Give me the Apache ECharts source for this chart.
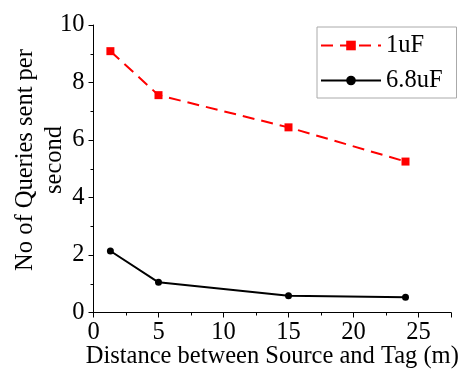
<!DOCTYPE html>
<html><head><meta charset="utf-8">
<script src="https://cdn.jsdelivr.net/npm/echarts@6/dist/echarts.min.js"></script>
<style>html,body{margin:0;padding:0;background:#fff}#c{width:464px;height:371px}</style>
</head><body><div id="c"></div>
<script>
const distances = [1.3, 5, 15, 24];
const series1uF = [9.09, 7.56, 6.44, 5.25];
const series68uF = [2.14, 1.05, 0.58, 0.53];
const xTicks = [0, 5, 10, 15, 20, 25];
const yTicks = [0, 2, 4, 6, 8, 10];
const yTitle = 'No of Queries sent per\nsecond';
const xTitle = 'Distance between Source and Tag (m)';
const font = 'Liberation Serif, Times New Roman, serif';
const chart = echarts.init(document.getElementById('c'));
chart.setOption({
  animation: false,
  backgroundColor: '#fff',
  grid: {left: 93.5, right: 13, top: 25, bottom: 58.5, outerBoundsMode: 'none', containLabel: false},
  graphic: [{
    type: 'text', x: 40, y: 160, rotation: Math.PI / 2,
    style: {text: yTitle, font: '24.5px ' + font, fill: '#000', lineHeight: 29,
      align: 'center', verticalAlign: 'middle'}
  }],
  legend: {
    orient: 'vertical', left: 317, top: 27,
    padding: [6, 14, 5, 3], itemGap: 10,
    borderColor: '#aaa', borderWidth: 1,
    itemWidth: 60, itemHeight: 12,
    textStyle: {fontFamily: font, fontSize: 24.5, color: '#000'},
    data: ['1uF', '6.8uF']
  },
  xAxis: {
    type: 'value', min: 0, max: 27.5, interval: 5,
    name: xTitle, nameLocation: 'middle', nameGap: 32,
    nameMoveOverlap: false,
    nameTextStyle: {fontFamily: font, fontSize: 24.5, color: '#000'},
    axisLine: {lineStyle: {color: '#000', width: 1}},
    axisTick: {show: true, inside: false, length: 5, lineStyle: {color: '#000'}},
    minorTick: {show: true, splitNumber: 2, length: 3, lineStyle: {color: '#000'}},
    splitLine: {show: false},
    axisLabel: {fontFamily: font, fontSize: 24.5, color: '#000', margin: 8,
      formatter: v => xTicks.includes(v) ? String(v) : ''}
  },
  yAxis: {
    type: 'value', min: 0, max: 10, interval: 2,
    axisLine: {show: true, lineStyle: {color: '#000', width: 1}},
    axisTick: {show: true, inside: false, length: 5, lineStyle: {color: '#000'}},
    minorTick: {show: true, splitNumber: 2, length: 3, lineStyle: {color: '#000'}},
    splitLine: {show: false},
    axisLabel: {fontFamily: font, fontSize: 24.5, color: '#000', margin: 9,
      formatter: v => yTicks.includes(v) ? String(v) : ''}
  },
  series: [
    {name: '1uF', type: 'line', data: distances.map((d, i) => [d, series1uF[i]]),
     symbol: 'rect', symbolSize: 8, itemStyle: {color: '#ff0000'},
     lineStyle: {color: '#ff0000', width: 2, type: [12, 7]}},
    {name: '6.8uF', type: 'line', data: distances.map((d, i) => [d, series68uF[i]]),
     symbol: 'circle', symbolSize: 7, itemStyle: {color: '#000'},
     lineStyle: {color: '#000', width: 2}}
  ]
});
</script></body></html>
